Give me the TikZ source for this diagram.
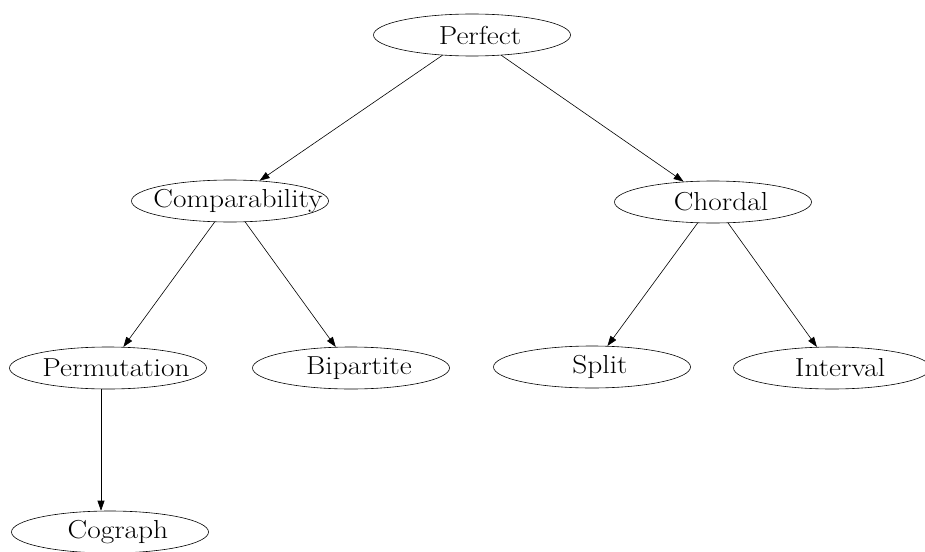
\documentclass[tikz,border=0pt]{standalone}
\usetikzlibrary{shapes.geometric,arrows.meta,calc}
\newcommand{\gtext}[1]{\makebox[0pt]{\hspace{16pt}\scalebox{1.13}[1]{#1}}}
\begin{document}
\begin{tikzpicture}[x=1pt,y=-1pt,
  gnode/.style={draw,ellipse,inner sep=0pt,minimum width=197pt,minimum height=42pt,line width=0.6pt,
    font=\fontsize{26}{30}\selectfont},
  edge/.style={-{Triangle[length=10pt,width=7pt]},line width=0.6pt}]
\useasboundingbox[clip] (0,0) rectangle (925,551);
\node[gnode] (perfect) at (472,35) {\gtext{Perfect}};
\node[gnode] (comp) at (230,201) {\gtext{Comparability}};
\node[gnode] (chordal) at (713,202) {\gtext{Chordal}};
\node[gnode] (perm) at (108,368) {\gtext{Permutation}};
\node[gnode] (bip) at (351,368) {\gtext{Bipartite}};
\node[gnode] (split) at (592,367) {\gtext{Split}};
\node[gnode] (interval) at (832,368) {\gtext{Interval}};
\node[gnode] (cograph) at (110,532) {\gtext{Cograph}};
\draw[edge] (perfect) -- (comp);
\draw[edge] (perfect) -- (chordal);
\draw[edge] (comp) -- (perm);
\draw[edge] (comp) -- (bip);
\draw[edge] (chordal) -- (split);
\draw[edge] (chordal) -- (interval);
\draw[edge] ($(perm.south)+(-7,0)$) -- ($(cograph.north)+(-9,0)$);
\end{tikzpicture}
\end{document}
